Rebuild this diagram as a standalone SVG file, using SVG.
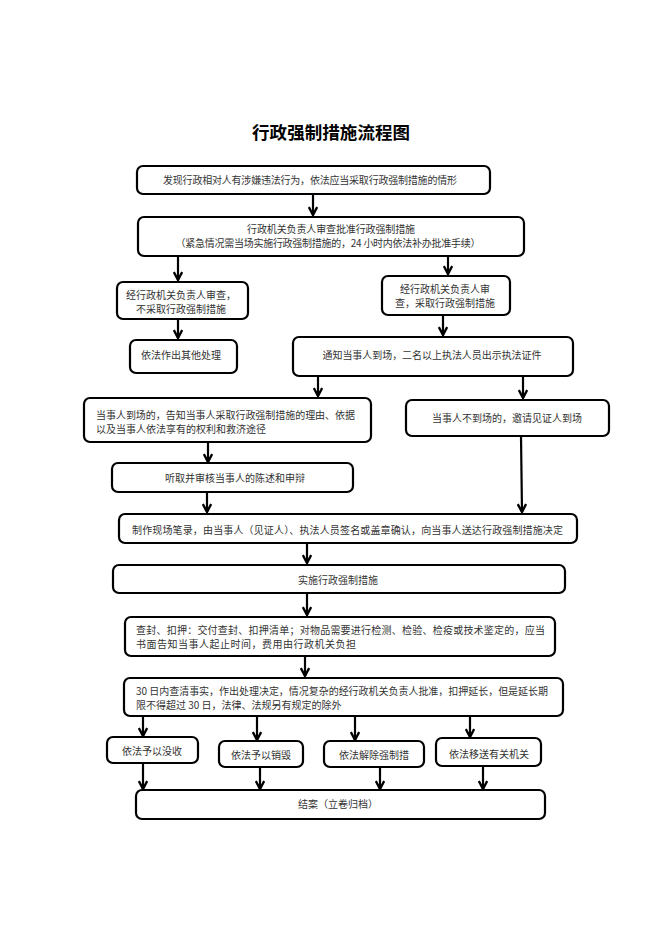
<svg xmlns="http://www.w3.org/2000/svg" width="662" height="936" viewBox="0 0 662 936">
<defs>
<marker id="ah" viewBox="0 0 10 10" refX="9" refY="5" markerWidth="10" markerHeight="10" markerUnits="userSpaceOnUse" orient="auto">
<path d="M1,0.8 L9,5 L1,9.2" fill="none" stroke="#000" stroke-width="2.4" stroke-linejoin="miter"/>
</marker>
<style>
.b{fill:#fff;stroke:#000;stroke-width:2.2}
.t{font-family:"Noto Sans CJK SC","Liberation Sans",sans-serif;font-size:10px;fill:#333}
.c{text-anchor:middle}
.title{font-family:"Noto Sans CJK SC","Liberation Sans",sans-serif;font-size:17.5px;font-weight:bold;fill:#000;text-anchor:middle}
.k{fill:none;stroke:#000;stroke-width:2.2;marker-end:url(#ah)}
</style>
</defs>
<rect width="662" height="936" fill="#fff"/>
<text class="title" x="331" y="139" textLength="158">行政强制措施流程图</text>

<g id="connectors">
<path class="k" d="M313,194 V215"/>
<path class="k" d="M178,256 V280"/>
<path class="k" d="M448,256 V274"/>
<path class="k" d="M178,319 V338"/>
<path class="k" d="M443,315 V335"/>
<path class="k" d="M318,376 V396"/>
<path class="k" d="M523,376 V398"/>
<path class="k" d="M208,442 V462"/>
<path class="k" d="M207,492 V512"/>
<path class="k" d="M521,436 L522,512"/>
<path class="k" d="M307,543 V563"/>
<path class="k" d="M307,593 V615"/>
<path class="k" d="M305,656 V676"/>
<path class="k" d="M143,716 V736"/>
<path class="k" d="M257,716 V740"/>
<path class="k" d="M355,716 V740"/>
<path class="k" d="M470,716 V737"/>
<path class="k" d="M143,763 V789"/>
<path class="k" d="M260,767 V789"/>
<path class="k" d="M380,767 V789"/>
<path class="k" d="M483,766 V789"/>
</g>

<g id="n1"><rect class="b" x="137" y="166" width="353" height="28" rx="6"/>
<text class="t c" x="310" y="183.5" textLength="294">发现行政相对人有涉嫌违法行为，依法应当采取行政强制措施的情形</text></g>

<g id="n2"><rect class="b" x="138" y="217" width="386" height="39" rx="6"/>
<text class="t c" x="331" y="232.5" textLength="168">行政机关负责人审查批准行政强制措施</text>
<text class="t c" x="328" y="246.5" textLength="305">（紧急情况需当场实施行政强制措施的，24 小时内依法补办批准手续）</text></g>

<g id="n3"><rect class="b" x="117" y="282" width="131" height="37" rx="6"/>
<text class="t c" x="181" y="299">经行政机关负责人审查，</text>
<text class="t c" x="181" y="313">不采取行政强制措施</text></g>

<g id="n4"><rect class="b" x="382" y="276" width="128" height="39" rx="6"/>
<text class="t c" x="445" y="292.5">经行政机关负责人审</text>
<text class="t c" x="445" y="306.5">查，采取行政强制措施</text></g>

<g id="n5"><rect class="b" x="130" y="340" width="107" height="33" rx="6"/>
<text class="t c" x="181" y="359">依法作出其他处理</text></g>

<g id="n6"><rect class="b" x="293" y="337" width="280" height="39" rx="6"/>
<text class="t c" x="432" y="359" textLength="219">通知当事人到场，二名以上执法人员出示执法证件</text></g>

<g id="n7"><rect class="b" x="84" y="398" width="287" height="44" rx="6"/>
<text class="t" x="96" y="419" textLength="259">当事人到场的，告知当事人采取行政强制措施的理由、依据</text>
<text class="t" x="96" y="433">以及当事人依法享有的权利和救济途径</text></g>

<g id="n8"><rect class="b" x="406" y="400" width="203" height="36" rx="6"/>
<text class="t c" x="507" y="421.5">当事人不到场的，邀请见证人到场</text></g>

<g id="n9"><rect class="b" x="112" y="463" width="241" height="29" rx="6"/>
<text class="t c" x="235" y="481.5">听取并审核当事人的陈述和申辩</text></g>

<g id="n10"><rect class="b" x="119" y="514" width="458" height="29" rx="6"/>
<text class="t c" x="347.5" y="533.5" textLength="431">制作现场笔录，由当事人（见证人）、执法人员签名或盖章确认，向当事人送达行政强制措施决定</text></g>

<g id="n11"><rect class="b" x="113" y="565" width="452" height="28" rx="6"/>
<text class="t c" x="338" y="583.5">实施行政强制措施</text></g>

<g id="n12"><rect class="b" x="125" y="617" width="430" height="39" rx="6"/>
<text class="t" x="136" y="633.5" textLength="409">查封、扣押：交付查封、扣押清单；对物品需要进行检测、检验、检疫或技术鉴定的，应当</text>
<text class="t" x="136" y="647.5" textLength="220">书面告知当事人起止时间，费用由行政机关负担</text></g>

<g id="n13"><rect class="b" x="124" y="678" width="439" height="38" rx="6"/>
<text class="t" x="136" y="694.5" textLength="412">30 日内查清事实，作出处理决定，情况复杂的经行政机关负责人批准，扣押延长，但是延长期</text>
<text class="t" x="136" y="708.5">限不得超过 30 日，法律、法规另有规定的除外</text></g>

<g id="n14"><rect class="b" x="107" y="737" width="91" height="26" rx="6"/>
<text class="t c" x="152" y="755">依法予以没收</text></g>

<g id="n15"><rect class="b" x="219" y="741" width="84" height="26" rx="6"/>
<text class="t c" x="261" y="759">依法予以销毁</text></g>

<g id="n16"><rect class="b" x="324" y="741" width="100" height="26" rx="6"/>
<text class="t c" x="374" y="759">依法解除强制措</text></g>

<g id="n17"><rect class="b" x="436" y="738" width="105" height="28" rx="6"/>
<text class="t c" x="489" y="757.5">依法移送有关机关</text></g>

<g id="n18"><rect class="b" x="136" y="790" width="409" height="29" rx="6"/>
<text class="t c" x="338" y="807.5">结案（立卷归档）</text></g>
</svg>
